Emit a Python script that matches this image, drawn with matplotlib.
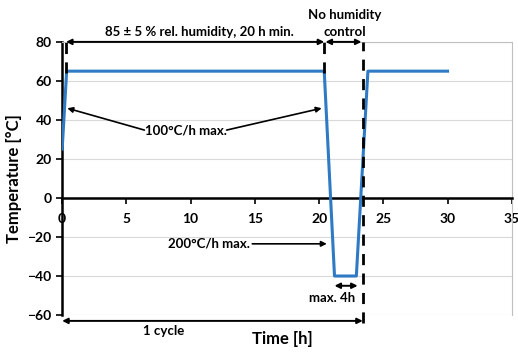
import matplotlib
matplotlib.use("Agg")
import matplotlib.pyplot as plt

# temperature profile of one cycle (plus start of next)
time_h = [0.0, 0.35, 20.4, 21.2, 22.9, 23.8, 30.0]
temp_c = [25, 65, 65, -40, -40, 65, 65]

x_ticks = [0, 5, 10, 15, 20, 25, 30, 35]
y_ticks = [-60, -40, -20, 0, 20, 40, 60, 80]

# phase boundaries (dashed markers)
phase_x = [0.3, 20.4, 23.4]

plt.rcParams['font.family'] = ['Lato', 'DejaVu Sans']
plt.rcParams['font.weight'] = 'bold'

fig = plt.figure(figsize=(5.18, 3.52), dpi=100)
ax = fig.add_axes([0.12, 0.105, 0.868, 0.776])

ax.plot(time_h, temp_c, color='#2f7ac4', linewidth=2.2, zorder=3)

ax.set_xlim(0, 35)
ax.set_ylim(-60, 80)
ax.set_xticks(x_ticks)
ax.set_yticks(y_ticks)
ax.grid(True, axis='y', color='#d9d9d9', linewidth=0.8)
ax.set_axisbelow(True)

# x axis sits on y = 0
ax.spines['bottom'].set_position(('data', 0))
ax.spines['bottom'].set_linewidth(1.8)
ax.spines['left'].set_linewidth(1.8)
ax.spines['top'].set_color('#bfbfbf')
ax.spines['right'].set_color('#bfbfbf')
ax.spines['top'].set_linewidth(0.8)
ax.spines['right'].set_linewidth(0.8)
ax.tick_params(axis='both', direction='out', length=4, width=1.2, labelsize=10)
ax.tick_params(axis='x', pad=7)
for lbl in ax.get_xticklabels() + ax.get_yticklabels():
    lbl.set_fontweight('bold')

ax.set_xlabel("Time [h]", fontsize=12, fontweight='bold', labelpad=0)
ax.xaxis.set_label_coords(0.49, -0.06)
ax.set_ylabel("Temperature [°C]", fontsize=12, fontweight='bold', labelpad=4)

# dashed phase lines
ax.plot([phase_x[0], phase_x[0]], [64, 80], color='black', lw=2, dashes=(4, 3), clip_on=False, zorder=4)
ax.plot([phase_x[1], phase_x[1]], [64, 80], color='black', lw=2, dashes=(4, 3), clip_on=False, zorder=4)
ax.plot([phase_x[2], phase_x[2]], [-64, 80], color='black', lw=2, dashes=(4, 3), clip_on=False, zorder=4)

arr2 = dict(arrowstyle='<|-|>', color='black', lw=1.4, mutation_scale=8, shrinkA=0, shrinkB=0)
arr1 = dict(arrowstyle='-|>', color='black', lw=1.2, mutation_scale=8, shrinkA=0, shrinkB=0)

# humidity phase
ax.annotate('', xy=(phase_x[0], 80), xytext=(phase_x[1], 80), arrowprops=arr2, annotation_clip=False)
ax.text(10.7, 82, "85 ± 5 % rel. humidity, 20 h min.", ha='center', va='bottom',
        fontsize=9.5, fontweight='bold')
ax.annotate('', xy=(phase_x[1] + 0.1, 80), xytext=(phase_x[2] - 0.1, 80), arrowprops=arr2,
            annotation_clip=False)
ax.text(22.0, 82, "No humidity\ncontrol", ha='center', va='bottom', fontsize=9.5,
        fontweight='bold', linespacing=1.45)

# ramp rates
ax.text(9.6, 34.4, "100°C/h max.", ha='center', va='center', fontsize=9.5, fontweight='bold')
ax.annotate('', xy=(0.4, 46), xytext=(6.4, 34.8), arrowprops=arr1)
ax.annotate('', xy=(20.2, 46), xytext=(12.8, 34.8), arrowprops=arr1)

ax.text(14.6, -23.5, "200°C/h max.", ha='right', va='center', fontsize=9.5, fontweight='bold')
ax.annotate('', xy=(20.6, -23.5), xytext=(14.8, -23.5), arrowprops=arr1)

# dwell at -40
ax.annotate('', xy=(21.2, -45), xytext=(23.0, -45), arrowprops=arr2)
ax.text(21.0, -48, "max. 4h", ha='center', va='top', fontsize=9.5, fontweight='bold')

# one cycle
ax.annotate('', xy=(0, -63), xytext=(phase_x[2], -63), arrowprops=arr2, annotation_clip=False)
ax.text(7.9, -65, "1 cycle", ha='center', va='top', fontsize=9.5, fontweight='bold')

fig.savefig("out.png", dpi=100)
